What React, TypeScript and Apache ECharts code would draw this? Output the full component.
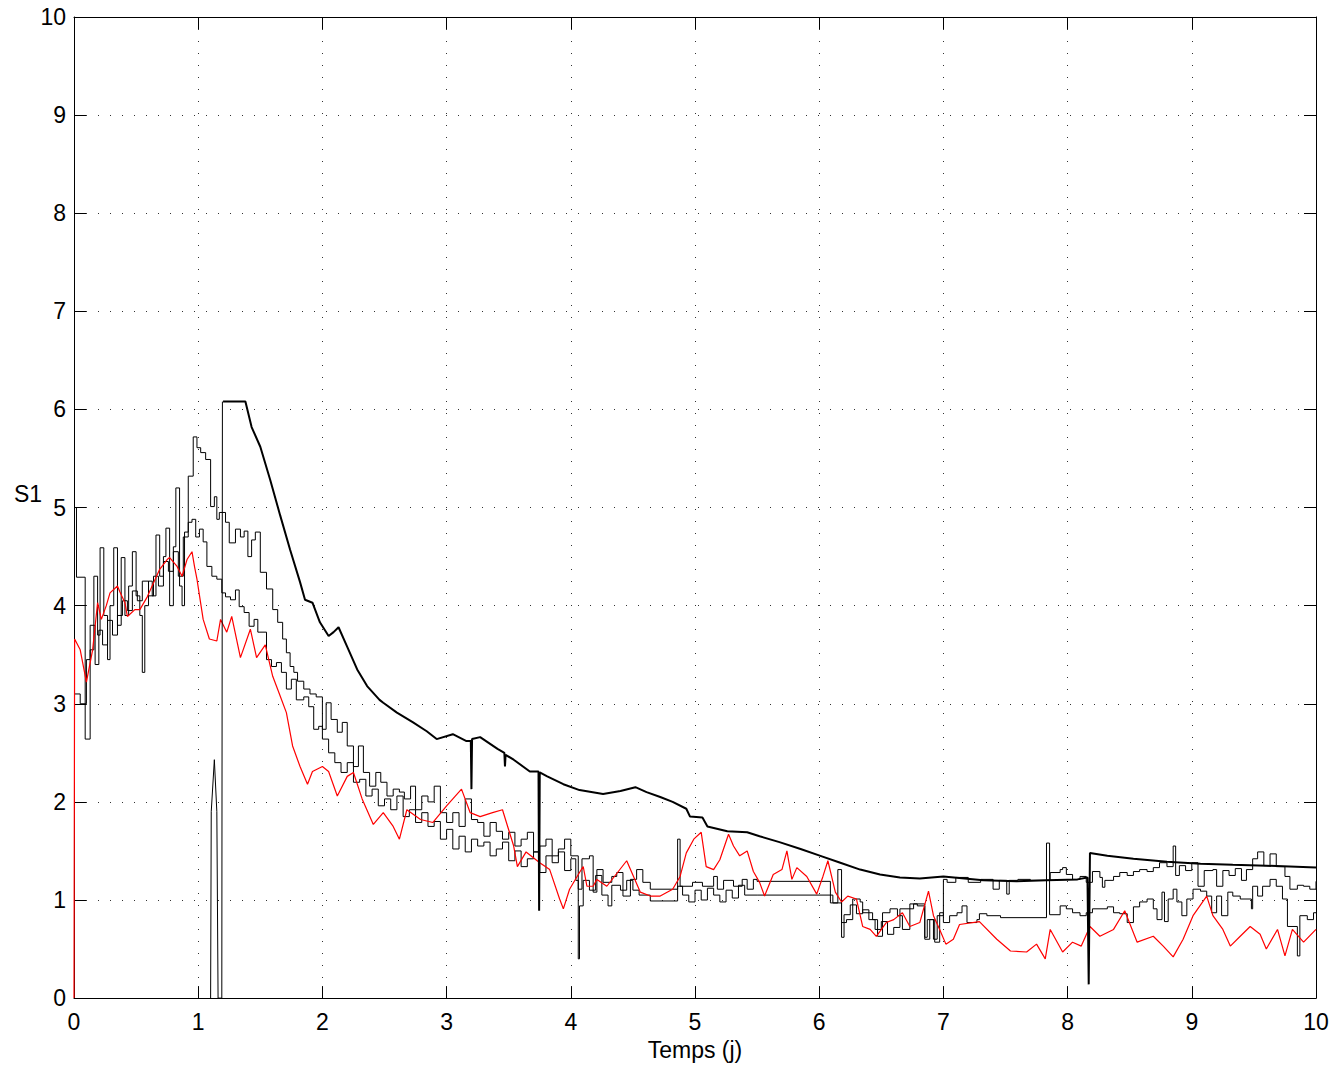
import React, { useEffect, useRef } from "react";
import * as echarts from "echarts";

// ---------- data ----------
const xTicks = [0, 1, 2, 3, 4, 5, 6, 7, 8, 9, 10];
const yTicks = [0, 1, 2, 3, 4, 5, 6, 7, 8, 9, 10];

const redX = [0, 0.005, 0.05, 0.1, 0.15, 0.19, 0.22, 0.26, 0.29, 0.35, 0.37, 0.41, 0.43, 0.49, 0.53, 0.59, 0.64, 0.69, 0.75, 0.77, 0.83, 0.87, 0.91, 0.95, 0.97, 0.99, 1.04, 1.09, 1.15, 1.18, 1.23, 1.27, 1.34, 1.42, 1.47, 1.54, 1.6, 1.66, 1.71, 1.76, 1.82, 1.88, 1.92, 2.0, 2.05, 2.12, 2.2, 2.25, 2.32, 2.41, 2.49, 2.57, 2.62, 2.68, 2.79, 2.89, 3.0, 3.12, 3.19, 3.27, 3.37, 3.45, 3.54, 3.57, 3.64, 3.75, 3.83, 3.91, 3.94, 3.99, 4.07, 4.1, 4.13, 4.18, 4.21, 4.29, 4.45, 4.56, 4.64, 4.72, 4.82, 4.88, 4.93, 4.99, 5.05, 5.09, 5.15, 5.2, 5.27, 5.31, 5.36, 5.42, 5.47, 5.52, 5.56, 5.63, 5.7, 5.74, 5.78, 5.82, 5.9, 5.98, 6.03, 6.07, 6.13, 6.18, 6.23, 6.3, 6.35, 6.41, 6.46, 6.54, 6.6, 6.67, 6.73, 6.81, 6.88, 6.92, 6.97, 7.02, 7.08, 7.13, 7.29, 7.43, 7.54, 7.67, 7.75, 7.82, 7.86, 7.96, 8.04, 8.11, 8.18, 8.26, 8.37, 8.46, 8.56, 8.69, 8.77, 8.85, 8.93, 9.01, 9.12, 9.17, 9.25, 9.31, 9.39, 9.47, 9.55, 9.6, 9.69, 9.75, 9.81, 9.9, 10.0];
const redY = [0, 3.66, 3.55, 3.22, 3.55, 4.03, 3.86, 4.0, 4.13, 4.2, 4.14, 4.03, 3.89, 3.96, 3.96, 4.09, 4.23, 4.37, 4.47, 4.49, 4.4, 4.3, 4.47, 4.55, 4.4, 4.27, 3.86, 3.66, 3.64, 3.86, 3.73, 3.89, 3.47, 3.76, 3.47, 3.6, 3.28, 3.08, 2.91, 2.57, 2.36, 2.18, 2.31, 2.36, 2.31, 2.06, 2.26, 2.3, 2.03, 1.77, 1.89, 1.75, 1.62, 1.92, 1.82, 1.79, 1.96, 2.13, 1.89, 1.85, 1.89, 1.92, 1.55, 1.34, 1.49, 1.38, 1.31, 1.01, 0.91, 1.11, 1.28, 1.34, 1.14, 1.14, 1.21, 1.14, 1.4, 1.08, 1.04, 1.04, 1.11, 1.24, 1.48, 1.62, 1.69, 1.34, 1.31, 1.41, 1.67, 1.55, 1.45, 1.5, 1.29, 1.18, 1.04, 1.26, 1.31, 1.5, 1.21, 1.33, 1.24, 1.06, 1.24, 1.4, 1.08, 0.98, 1.04, 1.01, 0.73, 0.7, 0.63, 0.77, 0.8, 0.87, 0.73, 0.77, 1.09, 0.84, 0.7, 0.55, 0.6, 0.75, 0.78, 0.6, 0.48, 0.47, 0.55, 0.4, 0.7, 0.47, 0.57, 0.53, 0.73, 0.63, 0.7, 0.89, 0.57, 0.63, 0.53, 0.42, 0.6, 0.84, 1.04, 0.84, 0.7, 0.53, 0.63, 0.73, 0.65, 0.5, 0.7, 0.43, 0.7, 0.57, 0.7];

const thickStartX = [1.1, 1.105, 1.13, 1.15, 1.16, 1.19, 1.195, 1.2];
const thickStartY = [0, 1.9, 2.43, 1.9, 0, 0, 6.08, 6.08];

const thickX = [1.2, 1.38, 1.43, 1.5, 1.58, 1.66, 1.74, 1.82, 1.86, 1.92, 1.98, 2.05, 2.09, 2.13, 2.2, 2.28, 2.36, 2.46, 2.49, 2.6, 2.73, 2.84, 2.92, 3.05, 3.16, 3.195, 3.2, 3.205, 3.27, 3.41, 3.465, 3.47, 3.475, 3.54, 3.67, 3.74, 3.745, 3.75, 3.81, 3.94, 4.07, 4.26, 4.4, 4.52, 4.61, 4.72, 4.82, 4.93, 4.96, 5.06, 5.1, 5.26, 5.42, 5.52, 5.68, 5.85, 6.01, 6.17, 6.33, 6.49, 6.65, 6.81, 7.0, 7.32, 7.59, 7.83, 8.08, 8.16, 8.17, 8.18, 8.32, 8.53, 8.8, 9.07, 9.33, 9.6, 10.0];
const thickY = [6.08, 6.08, 5.82, 5.62, 5.28, 4.92, 4.57, 4.24, 4.06, 4.03, 3.83, 3.69, 3.73, 3.78, 3.58, 3.35, 3.18, 3.04, 3.01, 2.91, 2.81, 2.72, 2.64, 2.69, 2.62, 2.62, 2.13, 2.64, 2.66, 2.54, 2.5, 2.36, 2.48, 2.43, 2.31, 2.31, 0.89, 2.3, 2.26, 2.18, 2.12, 2.08, 2.11, 2.15, 2.1, 2.05, 2.0, 1.93, 1.85, 1.84, 1.75, 1.7, 1.69, 1.65, 1.59, 1.52, 1.45, 1.38, 1.31, 1.26, 1.23, 1.22, 1.24, 1.2, 1.19, 1.2, 1.21, 1.23, 0.14, 1.48, 1.45, 1.42, 1.39, 1.37, 1.36, 1.35, 1.33];

const stepAX = [0, 0.02, 0.09, 0.13, 0.16, 0.19, 0.21, 0.24, 0.27, 0.29, 0.32, 0.35, 0.38, 0.41, 0.44, 0.47, 0.5, 0.53, 0.55, 0.57, 0.6, 0.63, 0.66, 0.69, 0.72, 0.74, 0.77, 0.8, 0.82, 0.85, 0.87, 0.89, 0.92, 0.96, 0.99, 1.02, 1.06, 1.1, 1.13, 1.15, 1.17, 1.22, 1.25, 1.3, 1.34, 1.37, 1.4, 1.43, 1.46, 1.5, 1.55, 1.6, 1.64, 1.68, 1.71, 1.74, 1.77, 1.8, 1.85, 1.9, 1.95, 2.0, 2.03, 2.07, 2.12, 2.16, 2.2, 2.25, 2.29, 2.33, 2.38, 2.43, 2.47, 2.52, 2.57, 2.62, 2.66, 2.71, 2.75, 2.8, 2.85, 2.9, 2.95, 3.0, 3.05, 3.1, 3.15, 3.2, 3.25, 3.3, 3.35, 3.4, 3.45, 3.5, 3.55, 3.6, 3.65, 3.7, 3.75, 3.8, 3.85, 3.9, 3.95, 4.0, 4.06, 4.09, 4.15, 4.18, 4.21, 4.26, 4.33, 4.37, 4.42, 4.48, 4.53, 4.58, 4.64, 4.86, 4.88, 4.98, 5.06, 5.15, 5.18, 5.23, 5.31, 5.38, 5.42, 5.47, 5.5, 6.09, 6.15, 6.18, 6.2, 6.25, 6.3, 6.35, 6.4, 6.45, 6.5, 6.55, 6.6, 6.65, 6.76, 6.85, 6.87, 6.92, 6.95, 7.0, 7.03, 7.1, 7.2, 7.3, 7.4, 7.45, 7.51, 7.53, 7.6, 7.7, 7.86, 7.94, 7.96, 7.99, 8.04, 8.1, 8.15, 8.2, 8.26, 8.28, 8.3, 8.37, 8.42, 8.48, 8.53, 8.58, 8.64, 8.69, 8.74, 8.8, 8.85, 8.87, 8.9, 8.95, 9.0, 9.05, 9.1, 9.17, 9.2, 9.25, 9.3, 9.35, 9.4, 9.44, 9.49, 9.53, 9.58, 9.63, 9.68, 9.75, 9.79, 9.85, 9.9, 9.95, 10.0];
const stepAY = [5.0, 4.29, 2.64, 3.55, 4.3, 3.7, 4.59, 3.9, 3.45, 4.0, 4.59, 3.8, 4.49, 3.9, 4.2, 4.55, 4.1, 3.9, 3.32, 4.0, 4.25, 4.1, 4.72, 4.3, 4.5, 4.79, 4.0, 4.6, 5.2, 4.2, 4.0, 4.75, 5.32, 5.72, 5.61, 5.56, 5.49, 5.01, 5.11, 4.88, 4.95, 4.85, 4.64, 4.78, 4.7, 4.76, 4.5, 4.67, 4.75, 4.34, 4.17, 3.96, 3.83, 3.66, 3.52, 3.38, 3.32, 3.23, 3.15, 3.1, 3.07, 2.74, 3.01, 2.84, 2.71, 2.81, 2.57, 2.36, 2.57, 2.3, 2.16, 2.3, 2.2, 2.06, 2.13, 2.1, 2.03, 2.16, 1.92, 2.06, 2.0, 2.16, 1.89, 1.79, 1.89, 1.75, 2.03, 1.82, 1.79, 1.65, 1.79, 1.7, 1.62, 1.69, 1.55, 1.62, 1.69, 1.49, 1.55, 1.62, 1.45, 1.52, 1.62, 1.45, 1.11, 1.42, 1.45, 1.08, 1.31, 1.18, 1.24, 1.28, 1.04, 1.21, 1.31, 1.18, 1.11, 1.62, 1.14, 1.18, 1.14, 1.24, 1.11, 1.2, 1.14, 1.21, 1.11, 1.21, 1.19, 0.97, 1.31, 0.62, 0.85, 0.95, 0.86, 0.9, 0.8, 0.7, 0.78, 0.65, 0.72, 0.91, 0.96, 0.62, 0.8, 0.6, 0.84, 1.21, 1.18, 1.23, 1.18, 1.21, 1.11, 1.2, 1.06, 1.2, 1.21, 1.2, 1.28, 1.31, 1.33, 1.26, 1.21, 1.24, 1.18, 1.29, 1.23, 1.13, 1.2, 1.24, 1.28, 1.25, 1.29, 1.31, 1.29, 1.33, 1.38, 1.34, 1.55, 1.25, 1.35, 1.3, 1.38, 1.14, 1.3, 1.31, 1.14, 1.3, 1.25, 1.32, 1.2, 1.31, 1.42, 1.49, 1.35, 1.47, 1.34, 1.24, 1.11, 1.15, 1.14, 1.11, 1.19];

const stepBX = [0, 0.05, 0.1, 0.13, 0.17, 0.2, 0.23, 0.27, 0.31, 0.35, 0.39, 0.43, 0.47, 0.51, 0.55, 0.6, 0.64, 0.68, 0.72, 0.76, 0.8, 0.84, 0.88, 0.92, 0.95, 0.98, 1.01, 1.04, 1.07, 1.11, 1.15, 1.19, 1.22, 1.26, 1.3, 1.33, 1.37, 1.41, 1.45, 1.48, 1.55, 1.59, 1.63, 1.67, 1.71, 1.75, 1.79, 1.85, 1.89, 1.93, 1.97, 2.0, 2.05, 2.1, 2.15, 2.2, 2.25, 2.3, 2.35, 2.4, 2.45, 2.5, 2.55, 2.6, 2.65, 2.7, 2.75, 2.8, 2.85, 2.9, 2.95, 3.0, 3.05, 3.1, 3.15, 3.2, 3.25, 3.3, 3.35, 3.4, 3.45, 3.5, 3.55, 3.6, 3.65, 3.7, 3.75, 3.8, 3.85, 3.9, 3.95, 4.0, 4.04, 4.06, 4.07, 4.1, 4.15, 4.2, 4.25, 4.3, 4.33, 4.4, 4.45, 4.5, 4.55, 4.64, 4.86, 4.9, 4.95, 5.0, 5.05, 5.1, 5.15, 5.2, 5.25, 5.3, 5.35, 5.4, 5.5, 6.11, 6.18, 6.22, 6.27, 6.33, 6.35, 6.43, 6.47, 6.51, 6.57, 6.63, 6.67, 6.73, 6.79, 6.85, 6.89, 6.93, 6.97, 7.0, 7.05, 7.11, 7.15, 7.19, 7.27, 7.29, 7.35, 7.46, 7.83, 7.855, 7.94, 7.99, 8.04, 8.1, 8.15, 8.2, 8.32, 8.37, 8.42, 8.48, 8.53, 8.58, 8.64, 8.69, 8.72, 8.76, 8.78, 8.81, 8.85, 8.88, 8.92, 8.96, 9.01, 9.07, 9.12, 9.16, 9.2, 9.24, 9.29, 9.33, 9.39, 9.48, 9.49, 9.53, 9.57, 9.63, 9.68, 9.73, 9.77, 9.85, 9.87, 9.93, 9.98, 10.0];
const stepBY = [3.1, 3.0, 3.45, 3.8, 3.4, 3.75, 3.6, 3.85, 3.7, 3.9, 4.05, 3.95, 4.15, 4.05, 4.25, 4.1, 4.3, 4.2, 4.45, 4.35, 4.55, 4.3, 4.7, 4.85, 4.88, 4.7, 4.78, 4.65, 4.4, 4.3, 4.27, 4.13, 4.09, 4.06, 4.16, 3.99, 3.93, 3.79, 3.86, 3.73, 3.45, 3.38, 3.42, 3.32, 3.15, 3.25, 3.04, 3.07, 2.97, 2.74, 2.77, 2.64, 2.5, 2.4, 2.3, 2.4, 2.2, 2.23, 2.06, 2.13, 1.96, 2.03, 1.92, 2.06, 1.85, 1.92, 1.79, 1.89, 1.75, 1.8, 1.62, 1.72, 1.52, 1.65, 1.49, 1.62, 1.55, 1.59, 1.45, 1.52, 1.59, 1.4, 1.5, 1.34, 1.42, 1.49, 1.28, 1.45, 1.38, 1.49, 1.3, 1.42, 1.2, 0.4, 0.94, 1.2, 1.1, 1.25, 1.05, 0.94, 1.15, 1.1, 1.2, 1.1, 1.05, 0.99, 1.14, 1.05, 0.98, 1.1, 1.0, 1.12, 1.05, 0.98, 1.1, 1.02, 1.15, 1.05, 1.05, 0.97, 0.77, 0.8, 1.01, 0.98, 0.87, 0.8, 0.63, 0.87, 0.91, 0.84, 0.7, 0.96, 0.94, 0.6, 0.8, 0.57, 0.87, 0.77, 0.84, 0.87, 0.94, 0.77, 0.8, 0.86, 0.84, 0.82, 1.58, 0.85, 0.94, 0.91, 0.87, 0.84, 0.87, 0.91, 0.93, 0.87, 0.86, 0.77, 0.93, 0.98, 1.01, 0.91, 0.8, 1.08, 0.78, 1.01, 1.11, 0.98, 0.84, 1.01, 1.11, 1.09, 1.04, 0.87, 1.04, 0.84, 1.08, 1.04, 1.01, 0.91, 1.14, 1.04, 1.14, 1.21, 1.14, 1.01, 0.73, 0.43, 0.84, 0.8, 0.87, 0.87];

const xName = "Temps (j)";
const yName = "S1";

const zip = (xs: number[], ys: number[]) => xs.map((x, i) => [x, ys[i]]);

const FONT = "'Liberation Sans', Arial, Helvetica, sans-serif";

export default function App() {
  const ref = useRef<HTMLDivElement>(null);
  useEffect(() => {
    if (!ref.current) return;
    const chart = echarts.init(ref.current, null, { renderer: "svg" });
    const axisLine = { show: true, onZero: false, lineStyle: { color: "#000", width: 1 } };
    const tick = { show: true, inside: true, length: 12, lineStyle: { color: "#000", width: 1 } };
    const grid = { show: true, lineStyle: { color: "#333", width: 1, type: [1, 11] } };
    const label = { color: "#000", fontSize: 23, fontFamily: FONT };
    chart.setOption({
      animation: false,
      backgroundColor: "#fff",
      grid: { left: 74, top: 17, right: 18, bottom: 67, containLabel: false },
      xAxis: [
        {
          type: "value", min: xTicks[0], max: xTicks[xTicks.length - 1], interval: 1,
          position: "bottom", axisLine, axisTick: tick, splitLine: grid,
          axisLabel: { ...label, margin: 12 },
          name: xName, nameLocation: "middle", nameGap: 38,
          nameTextStyle: { color: "#000", fontSize: 23, fontFamily: FONT },
        },
        {
          type: "value", min: 0, max: 10, interval: 1, position: "top",
          axisLine, axisTick: tick, splitLine: { show: false }, axisLabel: { show: false },
        },
      ],
      yAxis: [
        {
          type: "value", min: yTicks[0], max: yTicks[yTicks.length - 1], interval: 1,
          position: "left", axisLine, axisTick: tick, splitLine: grid,
          axisLabel: { ...label, margin: 8 },
        },
        {
          type: "value", min: 0, max: 10, interval: 1, position: "right",
          axisLine, axisTick: tick, splitLine: { show: false }, axisLabel: { show: false },
        },
      ],
      graphic: [
        {
          type: "text", left: 14, top: 482,
          style: { text: yName, fill: "#000", fontSize: 23, fontFamily: FONT },
        },
      ],
      series: [
        {
          type: "line", step: "end", data: zip(stepAX, stepAY), symbol: "none",
          lineStyle: { color: "#000", width: 1 }, silent: true,
        },
        {
          type: "line", step: "end", data: zip(stepBX, stepBY), symbol: "none",
          lineStyle: { color: "#000", width: 1 }, silent: true,
        },
        {
          type: "line", data: zip(redX, redY), symbol: "none",
          lineStyle: { color: "#ff0000", width: 1.2 }, silent: true,
        },
        {
          type: "line", data: zip(thickStartX, thickStartY), symbol: "none",
          lineStyle: { color: "#000", width: 1 }, silent: true,
        },
        {
          type: "line", data: zip(thickX, thickY), symbol: "none",
          lineStyle: { color: "#000", width: 2 }, silent: true,
        },
      ],
    });
    return () => chart.dispose();
  }, []);
  return (
    <div
      ref={ref}
      style={{ position: "absolute", left: 0, top: 0, width: 1334, height: 1066, background: "#fff" }}
    />
  );
}
